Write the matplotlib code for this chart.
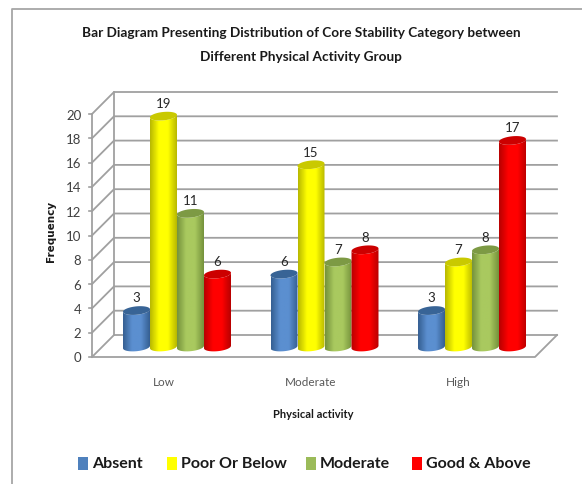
import numpy as np
import matplotlib
matplotlib.use('Agg')
from matplotlib import pyplot as plt
from matplotlib.patches import Polygon, Rectangle
from matplotlib.colors import LinearSegmentedColormap

plt.rcParams['font.family'] = ['Lato', 'DejaVu Sans']

title_lines = ['Bar Diagram Presenting Distribution of Core Stability Category between',
               'Different Physical Activity Group']
groups = ['Low', 'Moderate', 'High']
absent = [3, 6, 3]
poor = [19, 15, 7]
moderate = [11, 7, 8]
good = [6, 8, 17]
series_names = ['Absent', 'Poor Or Below', 'Moderate', 'Good & Above']
y_ticks = list(range(0, 21, 2))

# shades: edge, middle, top ellipse
shades = [('#355f92', '#5b8fd0', '#386496'),
          ('#b8b800', '#ffff00', '#c9c900'),
          ('#75923c', '#a9c95f', '#7d9a44'),
          ('#b80000', '#ff0000', '#cc0000')]
legend_colors = ['#4f81bd', '#ffff00', '#9bbb59', '#ff0000']

W, H = 582, 484
# pixel scale of the chart: one category = 147.5 px, one unit of value = 12.15 px
px_x = 147.5
px_y = 12.15
x0_px, y0_px = 177.0, 347.0


def xpx(p):
    return (p - x0_px) / px_x


def ypx(p):
    return (y0_px - p) / px_y


fig = plt.figure(figsize=(W / 100, H / 100), dpi=100)
ax = fig.add_axes([0, 0, 1, 1])
ax.set_xlim(xpx(0), xpx(W))
ax.set_ylim(ypx(H), ypx(0))
ax.axis('off')

# frame of the picture
ax.plot([xpx(12.5), xpx(12.5), xpx(W)], [ypx(H), ypx(9), ypx(9)], color='#a6a6a6', lw=1.3, zorder=1)

# walls and floor
grid = '#a0a0a0'
front_l, back_l, front_r, back_r = xpx(92), xpx(114), xpx(535), xpx(557)
front_off, back_off = ypx(357), ypx(335)
for t in y_ticks:
    ax.plot([front_l, back_l, back_r], [t + front_off, t + back_off, t + back_off],
            color=grid, lw=1.3, zorder=2)
    ax.plot([front_l - 0.02, front_l], [t + front_off, t + front_off], color=grid, lw=1.2, zorder=2)
    ax.text(xpx(81.5), t + front_off - 1.5 / px_y, str(t), ha='right', va='center', fontsize=9.5, color='#404040', zorder=6)
ax.plot([front_l, front_l], [front_off, 20 + front_off], color=grid, lw=1.3, zorder=2)
ax.plot([back_l, back_l], [back_off, 20 + back_off], color=grid, lw=1.3, zorder=2)
ax.plot([front_l, front_r, back_r], [front_off, front_off, back_off], color=grid, lw=1.3, zorder=2)

# cylinders
bar_w = 27.0 / px_x
rx = bar_w / 2
ry = 4.2 / px_y
tilt = 2.5 / px_y
t = np.linspace(0, 2 * np.pi, 80)
cmaps = [LinearSegmentedColormap.from_list('c%d' % i, [s[0], s[1], s[1], s[0]]) for i, s in enumerate(shades)]
grad = np.linspace(0, 1, 64).reshape(1, -1)


def ellipse(cx, cy):
    ex = cx + rx * np.cos(t)
    ey = cy + ry * np.sin(t) + tilt * np.cos(t) * 0.5
    return np.column_stack([ex, ey])


series = [absent, poor, moderate, good]
for k, vals in enumerate(series):
    for i, v in enumerate(vals):
        cx = i + (k - 1.5) * bar_w
        low = ellipse(cx, 0)
        top = ellipse(cx, v)
        lower_half = low[np.sin(t) <= 0]
        lower_half = lower_half[np.argsort(lower_half[:, 0])]
        upper_half = top[np.sin(t) <= 0]
        upper_half = upper_half[np.argsort(-upper_half[:, 0])]
        body = Polygon(np.vstack([lower_half, upper_half]), closed=True, fc='none', ec='none', zorder=3 + k * 0.1)
        ax.add_patch(body)
        im = ax.imshow(grad, cmap=cmaps[k], aspect='auto', zorder=3 + k * 0.1,
                       extent=[cx - rx, cx + rx, -1, v + 1], interpolation='bilinear')
        im.set_clip_path(body)
        ax.add_patch(Polygon(top, closed=True, fc=shades[k][2], ec='none', zorder=3.05 + k * 0.1))
        ax.text(cx, v + 0.5, str(v), ha='center', va='bottom', fontsize=9.5, color='#262626', zorder=7)

ax.set_xlim(xpx(0), xpx(W))
ax.set_ylim(ypx(H), ypx(0))

# category labels
for i, g in enumerate(groups):
    ax.text(i - 13.5 / px_x, ypx(383), g, ha='center', va='center', fontsize=8.5, color='#595959')

# texts
ax.text(xpx(301), ypx(33), title_lines[0], ha='center', va='center', fontsize=9.85, fontweight='bold', color='#1a1a1a')
ax.text(xpx(301), ypx(57), title_lines[1], ha='center', va='center', fontsize=9.85, fontweight='bold', color='#1a1a1a')
ax.text(xpx(313), ypx(414), 'Physical activity', ha='center', va='center', fontsize=8, fontweight='bold', color='#1a1a1a')
ax.text(xpx(51), ypx(231), 'Frequency', ha='center', va='center', rotation=90, fontsize=7.5, fontweight='bold',
        color='#1a1a1a', family='DejaVu Sans')

# legend
leg_x = [78, 167, 306, 412]
for name, c, lx in zip(series_names, legend_colors, leg_x):
    ax.add_patch(Rectangle((xpx(lx), ypx(470)), 10 / px_x, 13 / px_y, fc=c, ec='none', zorder=5))
    ax.text(xpx(lx + 14), ypx(464.5), name, ha='left', va='center', fontsize=11.5, fontweight='bold', color='#1a1a1a')

fig.savefig('out.png', dpi=100, facecolor='white')
